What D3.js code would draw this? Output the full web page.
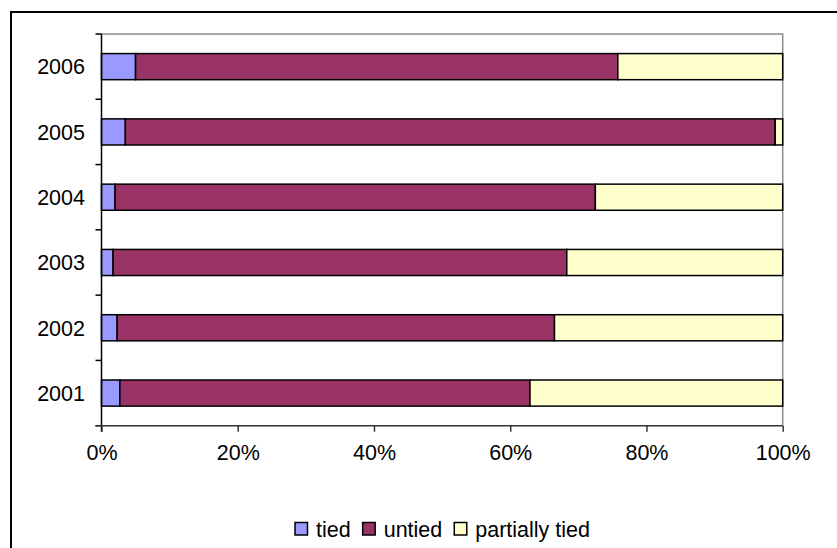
<!DOCTYPE html>
<html>
<head>
<meta charset="utf-8">
<script src="https://cdn.jsdelivr.net/npm/d3@7"></script>
<style>
  html, body { margin: 0; padding: 0; background: #fff; }
  svg { display: block; }
  text { font-family: "Liberation Sans", Arial, sans-serif; fill: #000; }
</style>
</head>
<body>
<svg id="chart" width="837" height="548"></svg>
<script>
// Aid shares by year (percent of total)
const years = ["2001", "2002", "2003", "2004", "2005", "2006"];
const seriesNames = ["tied", "untied", "partially tied"];
const tied = [2.7, 2.3, 1.7, 2.0, 3.5, 5.0];
const untied = [60.2, 64.2, 66.6, 70.5, 95.4, 70.8];
const partiallyTied = [37.1, 33.5, 31.7, 27.5, 1.1, 24.2];
const xTicks = [0, 20, 40, 60, 80, 100];
const colors = ["#9999FF", "#993366", "#FFFFCC"];

const rows = years.map((y, i) => ({
  year: y,
  "tied": tied[i],
  "untied": untied[i],
  "partially tied": partiallyTied[i]
}));

const svg = d3.select("#chart");
const W = 837, H = 548;
const plot = { left: 101.5, right: 782.7, top: 34, bottom: 425.7 };
const fontSize = 21.5;

// Outer chart frame
svg.append("rect")
  .attr("x", 11).attr("y", 12)
  .attr("width", W + 10).attr("height", H + 10)
  .attr("fill", "#fff").attr("stroke", "#000").attr("stroke-width", 2);

const x = d3.scaleLinear().domain([0, 100]).range([plot.left, plot.right]);
const y = d3.scaleBand()
  .domain(years.slice().reverse())
  .range([plot.top, plot.bottom])
  .paddingInner(0.6).paddingOuter(0.3);

// Plot area border (top and right)
svg.append("path")
  .attr("d", `M${plot.left},${plot.top}H${plot.right}V${plot.bottom}`)
  .attr("fill", "none").attr("stroke", "#8c8c8c").attr("stroke-width", 1.5);

// Stacked bars
const stacked = d3.stack().keys(seriesNames)(rows);
svg.append("g").selectAll("g")
  .data(stacked)
  .join("g")
  .attr("fill", (d, i) => colors[i])
  .selectAll("rect")
  .data(d => d)
  .join("rect")
  .attr("x", d => x(d[0]))
  .attr("width", d => x(d[1]) - x(d[0]))
  .attr("y", d => y(d.data.year))
  .attr("height", y.bandwidth())
  .attr("stroke", "#000")
  .attr("stroke-width", 1.5);

// Y axis: labels centred in bands, ticks on band boundaries
const bandStep = (plot.bottom - plot.top) / years.length;
const yAxis = svg.append("g");
yAxis.append("line")
  .attr("x1", plot.left).attr("x2", plot.left)
  .attr("y1", plot.top).attr("y2", plot.bottom + 6)
  .attr("stroke", "#000").attr("stroke-width", 1.5);
yAxis.selectAll("line.tick")
  .data(d3.range(years.length + 1))
  .join("line")
  .attr("class", "tick")
  .attr("x1", plot.left - 6).attr("x2", plot.left)
  .attr("y1", i => plot.top + i * bandStep)
  .attr("y2", i => plot.top + i * bandStep)
  .attr("stroke", "#000").attr("stroke-width", 1.5);
yAxis.selectAll("text")
  .data(years)
  .join("text")
  .attr("x", 85)
  .attr("y", d => y(d) + y.bandwidth() / 2)
  .attr("dy", "0.36em")
  .attr("text-anchor", "end")
  .style("font-size", fontSize + "px")
  .text(d => d);

// X axis
const xAxis = d3.axisBottom(x)
  .tickValues(xTicks)
  .tickSize(6)
  .tickPadding(13)
  .tickFormat(d => d + "%");
const gx = svg.append("g")
  .attr("transform", `translate(0,${plot.bottom})`)
  .call(xAxis);
gx.select(".domain").attr("stroke", "#333").attr("stroke-width", 1.5)
  .attr("d", `M${plot.left - 6},0H${plot.right}`);
gx.selectAll(".tick line").attr("stroke", "#333").attr("stroke-width", 1.5);
gx.selectAll(".tick text")
  .style("font-size", fontSize + "px")
  .style("font-family", '"Liberation Sans", Arial, sans-serif')
  .attr("fill", "#000");

// Legend
const legend = svg.append("g").attr("transform", "translate(295,529)");
let offset = 0;
seriesNames.forEach((name, i) => {
  const item = legend.append("g").attr("transform", `translate(${offset},0)`);
  item.append("rect")
    .attr("x", 0).attr("y", -6.5)
    .attr("width", 12.5).attr("height", 12.5)
    .attr("fill", colors[i]).attr("stroke", "#000").attr("stroke-width", 1.5);
  const t = item.append("text")
    .attr("x", 21).attr("y", 0).attr("dy", "0.36em")
    .style("font-size", fontSize + "px")
    .text(name);
  offset += 21 + t.node().getComputedTextLength() + 12;
});
</script>
</body>
</html>
